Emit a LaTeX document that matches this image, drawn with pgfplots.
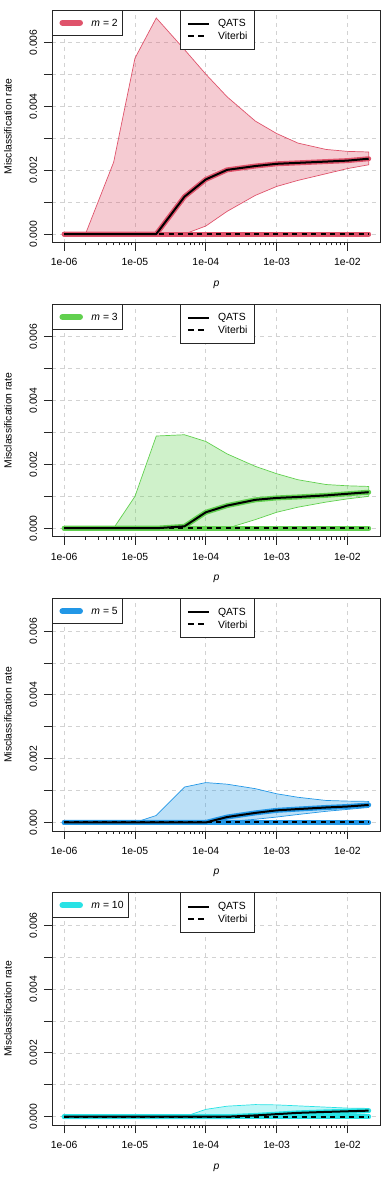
\documentclass[border=0pt]{standalone}
\usepackage{fontspec}
\setmainfont{Liberation Sans}
\usepackage{pgfplots}
\pgfplotsset{compat=1.18}

\definecolor{mred}{HTML}{DF536B}
\definecolor{mgreen}{HTML}{61D04F}
\definecolor{mblue}{HTML}{2297E6}
\definecolor{mcyan}{HTML}{28E2E5}
\newcommand{\fs}{\fontsize{10.4}{12.5}\selectfont}

\pgfplotsset{
  qpanel/.style={
    scale only axis, width=329pt, height=232.7pt,
    xmin=6.73e-7, xmax=2.972e-2,
    ymin=-0.00027, ymax=0.00702,
    xtick={1e-6,1e-5,1e-4,1e-3,1e-2},
    xticklabels={1e-06,1e-05,1e-04,1e-03,1e-02},
    minor xtick={},
    ytick={0,0.001,0.002,0.003,0.004,0.005,0.006},
    yticklabels={0.000,,0.002,,0.004,,0.006},
    scaled y ticks=false,
    xtick pos=bottom, ytick pos=left,
    tick align=outside, major tick length=8pt,
    tick style={black!85, line width=0.8pt},
    axis line style={black!85, line width=0.8pt},
    grid=major,
    major grid style={gray!35, dash pattern=on 4pt off 4pt, line width=0.7pt},
    tick label style={font=\fs},
    label style={font=\fs},
    yticklabel style={rotate=90, anchor=base},
    xticklabel shift=4.5pt,
    yticklabel shift=7pt,
    xlabel={\textit{p}}, ylabel={Misclassification rate},
    xlabel style={font=\fs, at={(axis description cs:0.5,-0.1805)}, anchor=center},
    ylabel style={font=\fs, at={(axis description cs:-0.1337,0.5)}, anchor=center},
  },
}
\tikzset{
  qband/.style={draw=#1, fill=#1, fill opacity=0.3, draw opacity=1, line width=0.7pt},
  qhalo/.style={draw=#1, line width=5pt, line cap=round, line join=round},
  qline/.style={draw=black, line width=2pt, line join=round},
  qdash/.style={draw=black, line width=2pt, dash pattern=on 5pt off 4.5pt},
}

% legends drawn after each axis, relative to the named axis box
\newcommand{\mlegend}[4]{%
  \draw[fill=white, draw=black!85, line width=0.8pt] (#1.north west) rectangle ([xshift=#4, yshift=-25pt]#1.north west);
  \draw[#2, line width=6pt, line cap=round] ([xshift=10.5pt, yshift=-12.7pt]#1.north west) -- ++(17.5pt,0);
  \node[anchor=west, font=\fs, inner sep=0pt] at ([xshift=39.3pt, yshift=-12.7pt]#1.north west) {\textit{m} = #3};
  \draw[fill=white, draw=black!85, line width=0.8pt] ([xshift=-36.5pt]#1.north) rectangle ([xshift=37.5pt, yshift=-39.3pt]#1.north);
  \draw[black, line width=2pt] ([xshift=-28.5pt, yshift=-14pt]#1.north) -- ++(21pt,0);
  \draw[black, line width=2pt, dash pattern=on 6pt off 4.5pt] ([xshift=-28.5pt, yshift=-26pt]#1.north) -- ++(21pt,0);
  \node[anchor=west, font=\fs, inner sep=0pt] at ([xshift=1.5pt, yshift=-14pt]#1.north) {QATS};
  \node[anchor=west, font=\fs, inner sep=0pt] at ([xshift=1.5pt, yshift=-26pt]#1.north) {Viterbi};
}

\begin{document}
\begin{tikzpicture}
\useasboundingbox (-52pt,10pt) rectangle (340pt,-1167.3pt);

% m = 2
\begin{axis}[xmode=log, qpanel, name=a1, at={(0pt,0pt)}, anchor=north west]
\addplot[qband=mred] coordinates {
  (1e-6,0) (2e-6,0) (5e-6,0.00225) (1e-5,0.00551) (2e-5,0.00677) (5e-5,0.00578)
  (1e-4,0.00501) (2e-4,0.0043) (5e-4,0.00354) (1e-3,0.00315) (2e-3,0.00285)
  (5e-3,0.00265) (1e-2,0.00259) (2e-2,0.00257)
  (2e-2,0.00217) (1e-2,0.00205) (5e-3,0.00189) (2e-3,0.00168) (1e-3,0.00149)
  (5e-4,0.00121) (2e-4,0.00071) (1e-4,0.00025) (5e-5,0) (2e-5,0) (1e-5,0)
  (5e-6,0) (2e-6,0) (1e-6,0)} -- cycle;
\addplot[qhalo=mred] coordinates {(1e-6,0) (2e-2,0)};
\addplot[qhalo=mred] coordinates {
  (1e-6,0) (2e-6,0) (5e-6,0) (1e-5,0) (2e-5,0) (5e-5,0.00117) (1e-4,0.00171)
  (2e-4,0.00201) (5e-4,0.00213) (1e-3,0.0022) (2e-3,0.00223) (5e-3,0.00227)
  (1e-2,0.0023) (2e-2,0.00236)};
\addplot[qdash] coordinates {(1e-6,0) (2e-2,0)};
\addplot[qline] coordinates {
  (1e-6,0) (2e-6,0) (5e-6,0) (1e-5,0) (2e-5,0) (5e-5,0.00117) (1e-4,0.00171)
  (2e-4,0.00201) (5e-4,0.00213) (1e-3,0.0022) (2e-3,0.00223) (5e-3,0.00227)
  (1e-2,0.0023) (2e-2,0.00236)};
\end{axis}
\mlegend{a1}{mred}{2}{70pt}

% m = 3
\begin{axis}[xmode=log, qpanel, name=a2, at={(0pt,-294.3pt)}, anchor=north west]
\addplot[qband=mgreen] coordinates {
  (1e-6,0) (2e-6,0) (5e-6,0) (1e-5,0.001) (2e-5,0.00289) (5e-5,0.00293)
  (1e-4,0.00272) (2e-4,0.00233) (5e-4,0.00194) (1e-3,0.00171) (2e-3,0.00152)
  (5e-3,0.00137) (1e-2,0.00133) (2e-2,0.00131)
  (2e-2,0.001) (1e-2,0.00092) (5e-3,0.00082) (2e-3,0.00066) (1e-3,0.0005)
  (5e-4,0.00027) (2e-4,0) (1e-4,0) (5e-5,0) (2e-5,0) (1e-5,0)
  (5e-6,0) (2e-6,0) (1e-6,0)} -- cycle;
\addplot[qhalo=mgreen] coordinates {(1e-6,0) (2e-2,0)};
\addplot[qhalo=mgreen] coordinates {
  (1e-6,0) (2e-6,0) (5e-6,0) (1e-5,0) (2e-5,0) (5e-5,0.00006) (1e-4,0.0005)
  (2e-4,0.00071) (5e-4,0.00089) (1e-3,0.00095) (2e-3,0.00098) (5e-3,0.00103)
  (1e-2,0.00108) (2e-2,0.00113)};
\addplot[qdash] coordinates {(1e-6,0) (2e-2,0)};
\addplot[qline] coordinates {
  (1e-6,0) (2e-6,0) (5e-6,0) (1e-5,0) (2e-5,0) (5e-5,0.00006) (1e-4,0.0005)
  (2e-4,0.00071) (5e-4,0.00089) (1e-3,0.00095) (2e-3,0.00098) (5e-3,0.00103)
  (1e-2,0.00108) (2e-2,0.00113)};
\end{axis}
\mlegend{a2}{mgreen}{3}{70pt}

% m = 5
\begin{axis}[xmode=log, qpanel, name=a3, at={(0pt,-588.6pt)}, anchor=north west]
\addplot[qband=mblue] coordinates {
  (1e-6,0) (2e-6,0) (5e-6,0) (1e-5,0) (2e-5,0.00022) (5e-5,0.00111)
  (1e-4,0.00125) (2e-4,0.0012) (5e-4,0.00106) (1e-3,0.0009) (2e-3,0.00079)
  (5e-3,0.00069) (1e-2,0.00067) (2e-2,0.00066)
  (2e-2,0.00047) (1e-2,0.00041) (5e-3,0.00035) (2e-3,0.00025) (1e-3,0.00017)
  (5e-4,0.0001) (2e-4,0.00003) (1e-4,0) (5e-5,0) (2e-5,0) (1e-5,0)
  (5e-6,0) (2e-6,0) (1e-6,0)} -- cycle;
\addplot[qhalo=mblue] coordinates {(1e-6,0) (2e-2,0)};
\addplot[qhalo=mblue] coordinates {
  (1e-6,0) (2e-6,0) (5e-6,0) (1e-5,0) (2e-5,0) (5e-5,0) (1e-4,0)
  (2e-4,0.00017) (5e-4,0.0003) (1e-3,0.00038) (2e-3,0.00042) (5e-3,0.00047)
  (1e-2,0.0005) (2e-2,0.00055)};
\addplot[qdash] coordinates {(1e-6,0) (2e-2,0)};
\addplot[qline] coordinates {
  (1e-6,0) (2e-6,0) (5e-6,0) (1e-5,0) (2e-5,0) (5e-5,0) (1e-4,0)
  (2e-4,0.00017) (5e-4,0.0003) (1e-3,0.00038) (2e-3,0.00042) (5e-3,0.00047)
  (1e-2,0.0005) (2e-2,0.00055)};
\end{axis}
\mlegend{a3}{mblue}{5}{70pt}

% m = 10
\begin{axis}[xmode=log, qpanel, name=a4, at={(0pt,-882.9pt)}, anchor=north west]
\addplot[qband=mcyan] coordinates {
  (1e-6,0) (2e-6,0) (5e-6,0) (1e-5,0) (2e-5,0) (5e-5,0)
  (1e-4,0.00023) (2e-4,0.00033) (5e-4,0.00038) (1e-3,0.00037) (2e-3,0.00034)
  (5e-3,0.0003) (1e-2,0.00027) (2e-2,0.00026)
  (2e-2,0.00013) (1e-2,0.0001) (5e-3,0.00006) (2e-3,0.00002) (1e-3,0)
  (5e-4,0) (2e-4,0) (1e-4,0) (5e-5,0) (2e-5,0) (1e-5,0)
  (5e-6,0) (2e-6,0) (1e-6,0)} -- cycle;
\addplot[qhalo=mcyan] coordinates {(1e-6,0) (2e-2,0)};
\addplot[qhalo=mcyan] coordinates {
  (1e-6,0) (2e-6,0) (5e-6,0) (1e-5,0) (2e-5,0) (5e-5,0) (1e-4,0)
  (2e-4,0) (5e-4,0.00004) (1e-3,0.00008) (2e-3,0.00012) (5e-3,0.00015)
  (1e-2,0.00017) (2e-2,0.00019)};
\addplot[qdash] coordinates {(1e-6,0) (2e-2,0)};
\addplot[qline] coordinates {
  (1e-6,0) (2e-6,0) (5e-6,0) (1e-5,0) (2e-5,0) (5e-5,0) (1e-4,0)
  (2e-4,0) (5e-4,0.00004) (1e-3,0.00008) (2e-3,0.00012) (5e-3,0.00015)
  (1e-2,0.00017) (2e-2,0.00019)};
\end{axis}
\mlegend{a4}{mcyan}{10}{76pt}
\end{tikzpicture}
\end{document}
